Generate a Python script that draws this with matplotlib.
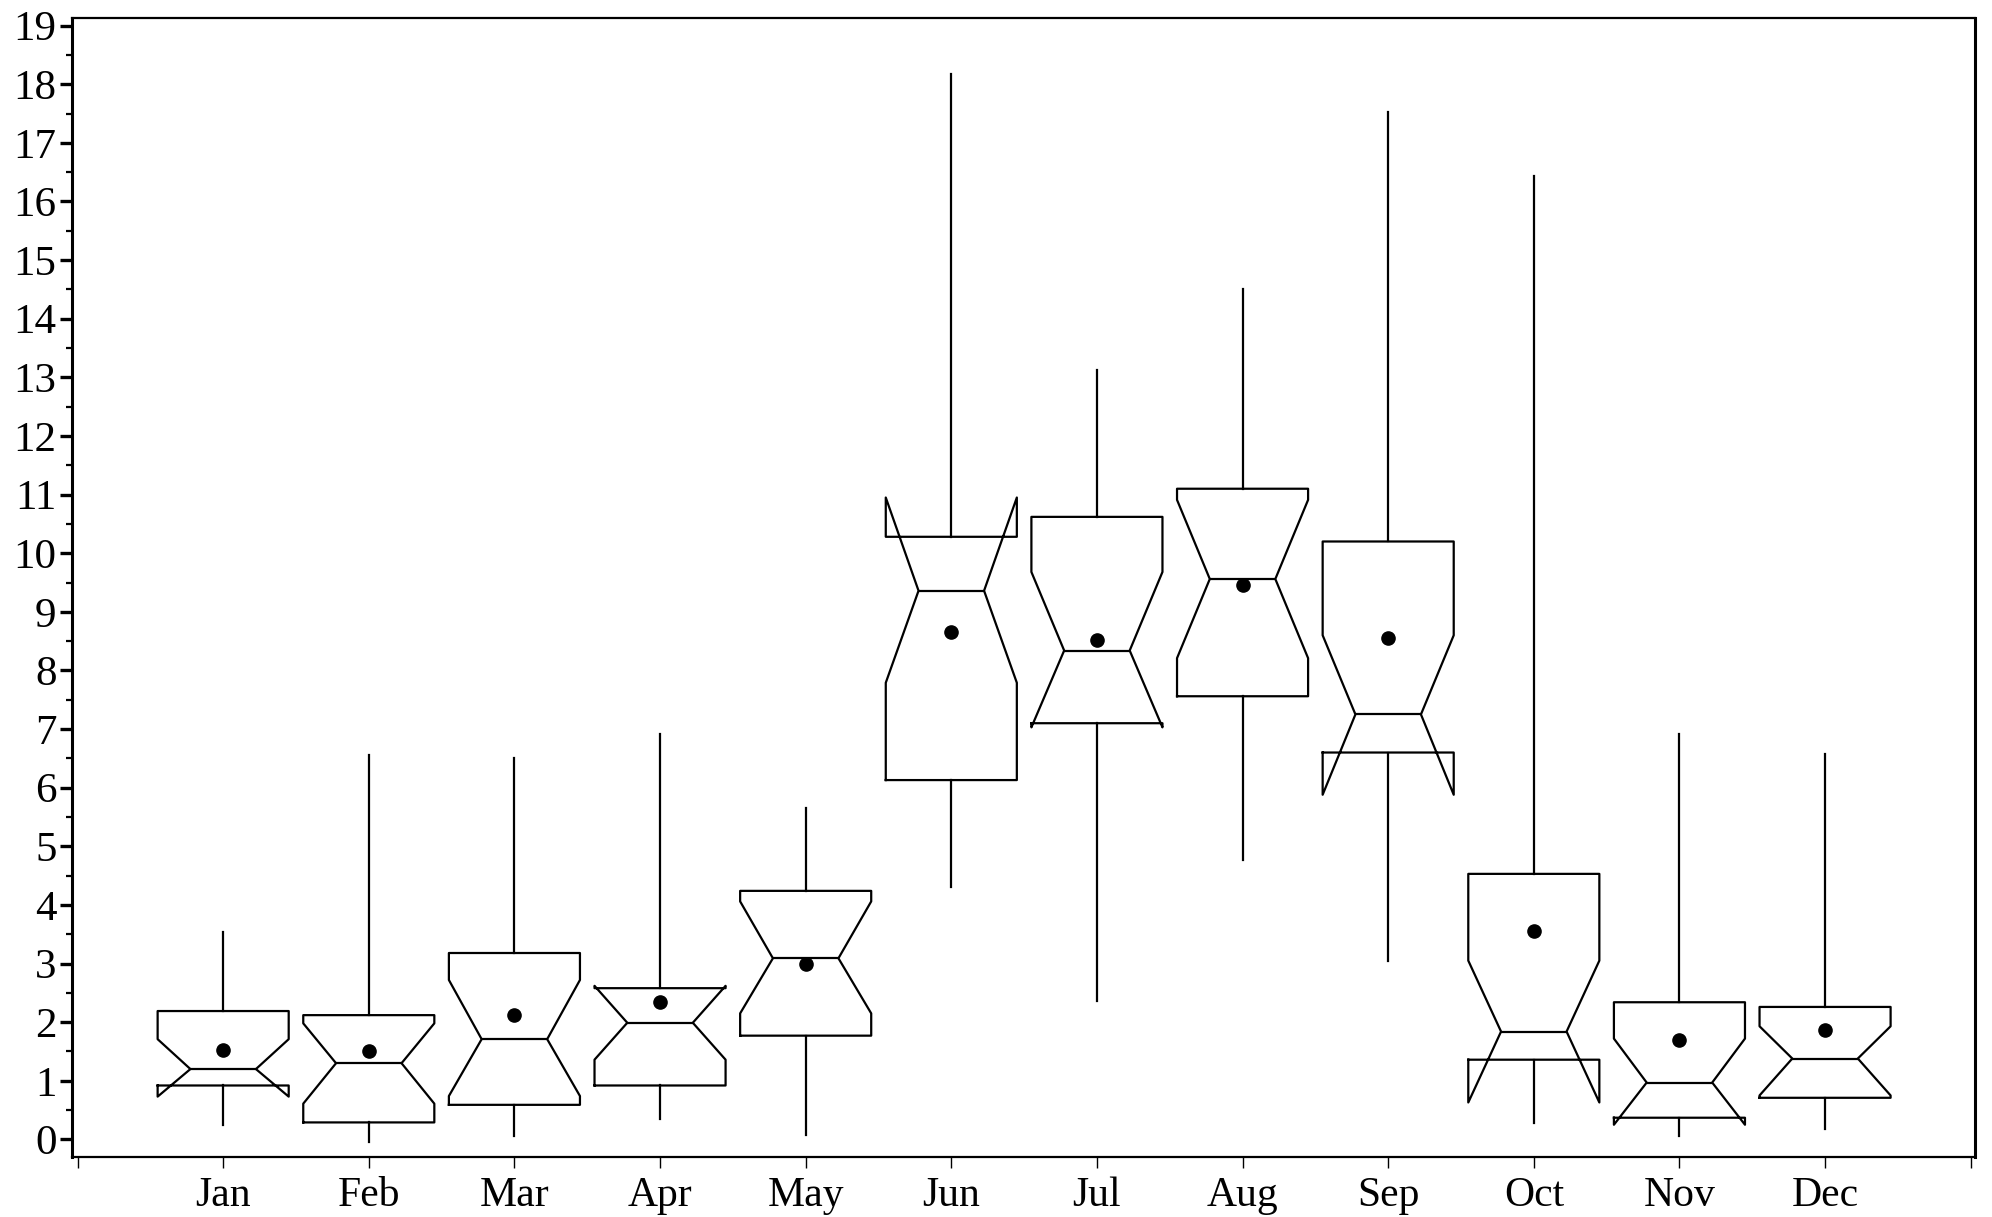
import matplotlib
matplotlib.use("Agg")
import matplotlib.pyplot as plt
from matplotlib.ticker import MultipleLocator, FixedLocator

months = ["Jan", "Feb", "Mar", "Apr", "May", "Jun", "Jul", "Aug", "Sep", "Oct", "Nov", "Dec"]

# values
whis_hi = [3.53, 6.56, 6.50, 6.91, 5.65, 18.18, 13.12, 14.50, 17.53, 16.44, 6.92, 6.58]
q3 = [2.19, 2.12, 3.18, 2.58, 4.24, 10.28, 10.62, 11.10, 10.20, 4.53, 2.34, 2.26]
ci_hi = [1.71, 1.98, 2.72, 2.62, 4.06, 10.95, 9.68, 10.91, 8.60, 3.05, 1.72, 1.93]
median = [1.20, 1.30, 1.71, 1.99, 3.09, 9.36, 8.34, 9.56, 7.25, 1.84, 0.97, 1.38]
ci_lo = [0.73, 0.61, 0.74, 1.36, 2.15, 7.79, 7.03, 8.21, 5.88, 0.63, 0.25, 0.75]
q1 = [0.92, 0.29, 0.59, 0.92, 1.77, 6.13, 7.10, 7.56, 6.60, 1.36, 0.37, 0.71]
whis_lo = [0.24, -0.04, 0.06, 0.35, 0.08, 4.31, 2.36, 4.77, 3.05, 0.28, 0.05, 0.17]
means = [1.53, 1.51, 2.12, 2.34, 3.00, 8.66, 8.52, 9.45, 8.55, 3.55, 1.70, 1.87]

stats = []
for i, m in enumerate(months):
    stats.append(dict(label=m, whishi=whis_hi[i], q3=q3[i], cihi=ci_hi[i], med=median[i],
                      cilo=ci_lo[i], q1=q1[i], whislo=whis_lo[i], mean=means[i], fliers=[]))

plt.rcParams["font.family"] = ["Liberation Serif", "DejaVu Serif"]

fig = plt.figure(figsize=(19.92, 12.17), dpi=100)
ax = fig.add_axes([0.036, 0.0493, 0.9555, 0.9359])

lw = 1.6
line = dict(color="black", linewidth=lw)
ax.bxp(stats, positions=range(1, 13), widths=0.9, shownotches=True, showmeans=True,
       showcaps=False, showfliers=False,
       boxprops=line, whiskerprops=line, medianprops=line,
       meanprops=dict(marker="o", markerfacecolor="black", markeredgecolor="black", markersize=9.5))

ax.set_xlim(-0.04, 13.03)
ax.set_ylim(-0.3, 19.13)

ax.xaxis.set_major_locator(FixedLocator(range(0, 14)))
ax.set_xticklabels([""] + months + [""])
ax.yaxis.set_major_locator(MultipleLocator(1))
ax.yaxis.set_minor_locator(MultipleLocator(0.5))

ax.tick_params(axis="y", which="major", direction="out", length=9, width=2.4, labelsize=31, pad=2)
ax.tick_params(axis="y", which="minor", direction="out", length=4, width=1.6)
ax.tick_params(axis="x", which="major", direction="out", length=8, width=1.0, labelsize=30, pad=6)

for side in ["left", "right"]:
    ax.spines[side].set_linewidth(2.2)
for side in ["top", "bottom"]:
    ax.spines[side].set_linewidth(1.6)

fig.savefig("out.png", dpi=100)
